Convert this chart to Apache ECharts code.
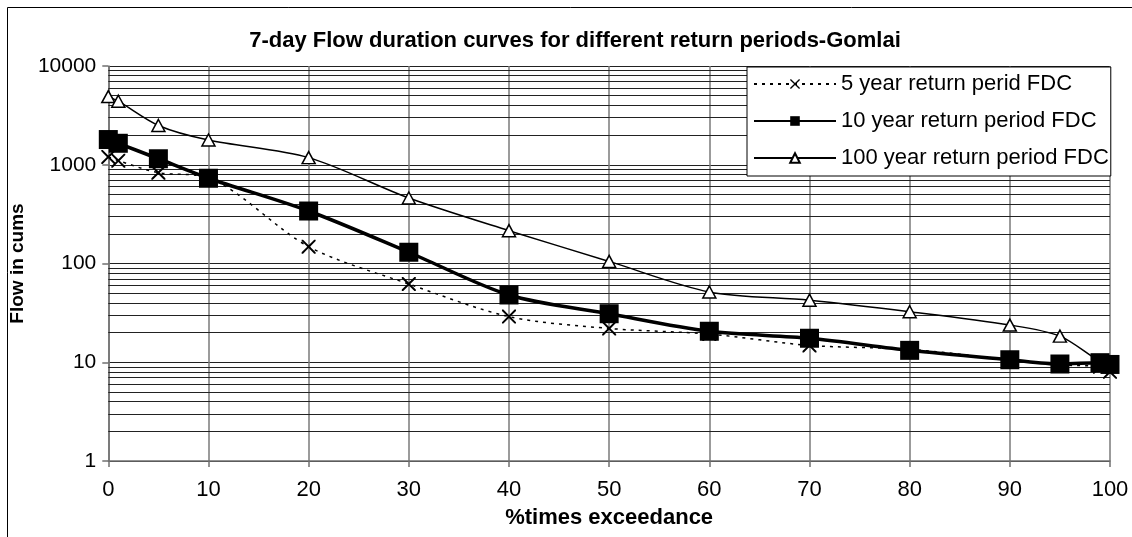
<!DOCTYPE html>
<html>
<head>
<meta charset="utf-8">
<title>7-day Flow duration curves - Gomlai</title>
<script src="https://cdn.jsdelivr.net/npm/echarts@6/dist/echarts.min.js"></script>
<style>
  html, body { margin: 0; padding: 0; background: #ffffff; }
  #chart { width: 1132px; height: 537px; }
</style>
</head>
<body>
<div id="chart"></div>
<script>
// Percent of time the flow is equalled or exceeded
const exceedance = [0, 1, 5, 10, 20, 30, 40, 50, 60, 70, 80, 90, 95, 99, 100];

// 7-day flows (cumecs) for each return period
const fdc5yr   = [1200, 1100, 830, 740, 148, 62, 29, 22, 19.3, 14.8, 13.5, 10.6, 9.4, 9.0, 8.0];
const fdc10yr  = [1800, 1650, 1150, 730, 340, 130, 48, 31, 20.6, 17.5, 13.2, 10.6, 9.6, 9.9, 9.5];
const fdc100yr = [4900, 4400, 2500, 1780, 1180, 460, 215, 105, 51.5, 42.5, 32.5, 23.8, 18.4, 10.2, 9.7];

const seriesNames = [
  '5 year return perid FDC',
  '10 year return period FDC',
  '100 year return period FDC'
];

// Log-scale minor gridlines (2..9 within each decade)
const minorGridValues = [
  2, 3, 4, 5, 6, 7, 8, 9,
  20, 30, 40, 50, 60, 70, 80, 90,
  200, 300, 400, 500, 600, 700, 800, 900,
  2000, 3000, 4000, 5000, 6000, 7000, 8000, 9000
];

const pairs = (ys) => exceedance.map((x, i) => [x, ys[i]]);

const crossSymbol = 'path://M0,0L1,0L5,4L9,0L10,0L10,1L6,5L10,9L10,10L9,10L5,6L1,10L0,10L0,9L4,5L0,1Z';
const FONT = 'Liberation Sans, Arial, sans-serif';

const chart = echarts.init(document.getElementById('chart'), null, { renderer: 'canvas' });

chart.setOption({
  backgroundColor: '#ffffff',
  animation: false,
  textStyle: { fontFamily: FONT, color: '#000' },
  title: {
    text: '7-day Flow duration curves for different return periods-Gomlai',
    left: 570,
    textAlign: 'center',
    top: 25,
    textStyle: { fontSize: 22, fontWeight: 'bold', color: '#000', fontFamily: FONT }
  },
  graphic: [{
    type: 'rect',
    shape: { x: 7.5, y: 7.5, width: 1200, height: 600 },
    style: { fill: 'none', stroke: '#000', lineWidth: 1 },
    silent: true,
    z: -1
  }],
  grid: { left: 103, right: 22, top: 66, bottom: 76 },
  legend: {
    orient: 'vertical',
    left: 747,
    top: 67,
    padding: [6, 2, 7, 6],
    itemGap: 15,
    itemWidth: 82,
    itemHeight: 12,
    itemTextGap: 7,
    backgroundColor: '#ffffff',
    borderColor: '#000',
    borderWidth: 1,
    textStyle: { fontSize: 22, color: '#000', fontFamily: FONT },
    data: seriesNames
  },
  xAxis: {
    type: 'value',
    min: 0,
    max: 100,
    interval: 10,
    name: '%times exceedance',
    nameLocation: 'middle',
    nameGap: 46,
    nameTextStyle: { fontSize: 22, fontWeight: 'bold', color: '#000' },
    axisLine: { show: true, lineStyle: { color: '#707070', width: 1.5 } },
    axisTick: { show: true, inside: false, length: 6, lineStyle: { color: '#707070', width: 1.5 } },
    axisLabel: { fontSize: 22, color: '#000', margin: 18 },
    splitLine: { show: true, lineStyle: { color: '#7a7a7a', width: 1.5 } }
  },
  yAxis: {
    type: 'log',
    logBase: 10,
    min: 1,
    max: 10000,
    name: 'Flow in cums',
    nameLocation: 'middle',
    nameGap: 58,
    nameRotate: 90,
    nameTextStyle: { fontSize: 19, fontWeight: 'bold', color: '#000' },
    axisLine: { show: true, lineStyle: { color: '#707070', width: 1.5 } },
    axisTick: { show: true, inside: false, length: 6, lineStyle: { color: '#707070', width: 1.5 } },
    axisLabel: { fontSize: 21, color: '#000', margin: 12, formatter: (v) => String(Math.round(v)) },
    splitLine: { show: true, lineStyle: { color: '#222', width: 1 } },
    minorTick: { show: false },
    minorSplitLine: { show: false }
  },
  series: [
    {
      name: seriesNames[0],
      type: 'line',
      data: pairs(fdc5yr),
      smooth: 0.3,
      symbol: crossSymbol,
      symbolSize: 14,
      itemStyle: { color: '#000' },
      lineStyle: { color: '#000', width: 1.5, type: [3, 5] },
      z: 3,
      markLine: {
        silent: true,
        symbol: ['none', 'none'],
        z: 1,
        label: { show: false },
        lineStyle: { color: '#222', width: 1, type: 'solid' },
        emphasis: { disabled: true },
        data: minorGridValues.map(v => ({ yAxis: v }))
      }
    },
    {
      name: seriesNames[1],
      type: 'line',
      data: pairs(fdc10yr),
      smooth: 0.3,
      symbol: 'rect',
      symbolSize: 19,
      itemStyle: { color: '#000' },
      lineStyle: { color: '#000', width: 3.5 },
      z: 4
    },
    {
      name: seriesNames[2],
      type: 'line',
      data: pairs(fdc100yr),
      smooth: 0.3,
      symbol: 'triangle',
      symbolSize: [13, 12],
      itemStyle: { color: '#fff', borderColor: '#000', borderWidth: 1.5 },
      lineStyle: { color: '#000', width: 1.5 },
      z: 3
    }
  ]
});
</script>
</body>
</html>
